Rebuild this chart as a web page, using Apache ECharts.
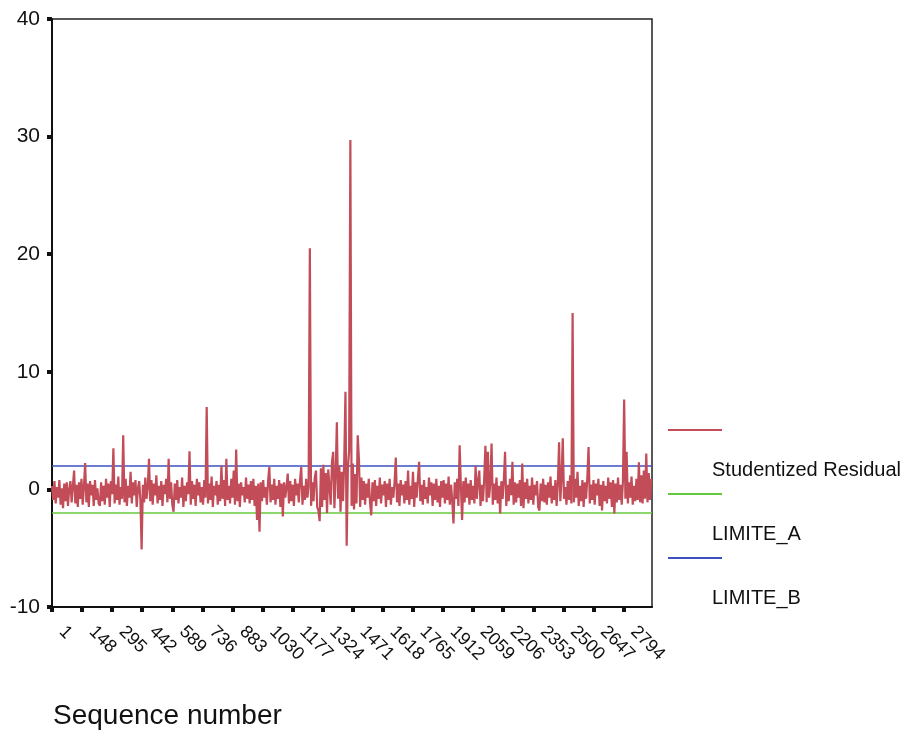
<!DOCTYPE html>
<html>
<head>
<meta charset="utf-8">
<script src="https://cdn.jsdelivr.net/npm/echarts@6/dist/echarts.min.js"></script>
<style>
  html, body { margin: 0; padding: 0; background: #ffffff; }
  #chart { width: 916px; height: 731px; }
</style>
</head>
<body>
<div id="chart"></div>
<script>
// ---- data ----
// Studentized residuals, one value every 6 cases, starting at case 1
const seqStep = 6;
const residual = [
  0.3, -0.9, 0.7, -1.2, 0.2, -0.7, 0.8, -1.3, 0.1, -1.6, 0.5, -1.0, 0.6, -1.4, 0.0, 0.7, -1.1, 0.3, 1.6, -1.2,
  0.4, -1.5, 0.6, -0.8, 0.9, -1.3, 0.2, 2.25, -1.1, 0.5, -1.5, 0.7, -0.5, 0.4, -1.4, 0.8, -0.9, 0.1, -1.2, -1.4,
  0.6, -1.0, 0.3, -1.3, 0.9, -0.7, 0.5, -1.5, 0.7, -0.4, 3.5, -1.2, 0.4, -0.9, 1.1, -1.3, 0.2, -0.8, 4.6, -1.1,
  0.9, -1.4, 0.3, -0.7, 1.5, -1.2, 0.6, -0.5, 0.8, -1.5, 0.1, 0.7, -0.9, -5.1, 0.4, -1.1, 1.0, -0.8, 0.2, 2.6,
  -1.0, 0.8, -1.3, 0.5, -0.5, 1.2, -1.2, 0.3, -0.9, 0.7, -1.4, 0.4, -0.4, 0.9, -1.1, 2.6, -0.8, 0.6, -1.3, -1.9,
  0.5, -0.9, 0.8, -1.2, 0.2, -0.7, 1.0, -1.5, 0.3, -1.0, 0.6, -0.4, 3.25, -1.3, 0.7, -0.8, 0.4, -1.4, 0.9, -0.5,
  0.6, -1.1, 0.2, -1.3, 0.8, -0.7, 7.0, -1.2, 0.5, -0.9, 1.1, -1.5, 0.3, -0.5, 0.7, -1.3, 0.4, -1.0, 2.0, -0.8,
  0.8, -1.4, 2.6, -0.9, 0.3, -1.2, 0.9, -0.7, 1.6, -1.3, 3.4, -1.0, 0.5, -1.5, 0.6, -0.5, 0.2, -1.1, 1.0, -0.8,
  0.4, -1.2, 0.7, -0.9, 0.9, -1.4, 0.3, -2.6, 0.5, -3.6, 0.6, -1.0, 0.8, -0.7, 0.2, -1.3, 0.7, 1.9, -1.1, 0.4,
  -0.9, 0.9, -1.3, 0.3, -0.8, 0.8, -1.5, 0.5, -2.3, 0.6, -0.7, 0.2, 1.35, -1.2, 0.7, -1.0, 0.4, -1.4, 0.9, -0.5,
  0.5, -1.1, 0.8, 1.9, -1.3, 0.3, -0.9, 0.9, -0.7, 0.2, 20.5, -1.4, 0.6, -1.0, 1.0, 1.6, -1.5, -1.8, -2.7, 1.8,
  -1.5, 2.1, -0.9, 1.4, -2.0, 1.7, 0.2, -1.3, 2.3, 3.2, -1.6, 1.2, 5.7, -0.8, 2.0, -1.9, 1.5, -1.0, 2.4, 8.3,
  -4.8, 1.9, 3.3, 29.7, -1.4, 2.2, -1.7, 1.3, -1.2, 4.6, 2.5, -1.5, 1.0, -0.9, 0.7, -1.3, 0.5, -0.7, 0.9, -1.1,
  -2.2, 0.6, -1.0, 0.8, -1.4, 0.3, -0.8, 1.0, -1.2, 0.4, -0.5, 0.7, -1.5, 0.5, -0.9, 0.9, -1.3, 0.2, -0.7, 0.6,
  2.7, -1.1, 0.5, -1.4, 0.8, -0.5, 0.4, -1.2, 0.7, -0.9, 1.6, -1.3, 0.3, -0.8, 1.5, -1.5, 0.6, -0.7, 0.9, 2.35,
  -1.0, 0.4, -1.3, 0.8, -0.8, 0.2, -1.2, 1.0, -0.5, 0.6, -1.4, 0.5, -0.9, 0.9, -1.1, 0.3, -1.5, 0.7, -0.7, 0.8,
  -1.2, 0.5, -0.9, 1.1, -1.3, 0.4, -1.0, -2.9, 0.6, -0.8, 0.9, -1.4, 3.75, 0.3, -2.6, 0.7, -1.1, 1.0, -0.7, 0.5,
  -1.3, 0.8, -0.9, 0.3, -1.2, 2.0, -0.8, 0.7, 1.6, -1.4, 0.4, -1.0, 0.9, 3.7, -1.1, 3.2, -0.7, 0.6, 3.9, -1.3,
  0.5, -0.9, 1.0, -1.2, 0.3, -2.05, 0.7, -0.8, 0.8, 3.2, -1.4, 0.4, -1.0, 0.9, -0.5, 2.35, -1.3, 0.6, -1.1, 0.5,
  -0.7, 0.8, -1.4, 2.2, -1.6, 0.6, -0.8, 0.9, -1.2, 0.3, -0.9, 1.0, -1.3, 0.4, -0.5, 0.7, -1.5, -1.8, 0.5, -1.0,
  0.9, -1.1, 0.4, -1.3, 0.6, -0.7, 1.1, -1.2, 0.3, -0.9, 0.8, -1.4, 0.5, 4.0, -1.0, 0.9, 4.35, -0.8, 0.2, -1.3,
  0.7, -0.9, 1.2, -1.2, 15.0, -1.1, 0.9, -0.7, 1.5, -1.4, 0.3, -1.0, 0.8, -1.5, 0.6, -0.8, 1.0, 3.6, -1.2, 0.4,
  -0.9, 0.8, -1.3, 0.5, -0.5, 0.9, -1.4, 0.4, -1.8, 0.7, -1.0, 0.3, -1.2, 1.0, -0.8, 0.6, -1.5, 0.8, -2.05, 0.5,
  -1.1, 1.0, -0.9, 0.4, -1.3, 0.7, 7.65, -0.8, 3.2, -1.2, 0.6, -0.7, 1.1, -1.3, 0.3, -1.0, 0.9, -0.9, 2.3, -1.1,
  1.2, -1.2, 1.6, -0.8, 3.05, -1.1, 1.4, -0.9, 0.9
];
const limitA = -2;      // LIMITE_A
const limitB = 2;       // LIMITE_B
const firstCase = 1;
const lastCase = 2933;
const tickStep = 147;   // x tick labels: 1, 148, 295, ... 2794
const seriesNames = ['Studentized Residual', 'LIMITE_A', 'LIMITE_B'];
const yMin = -10, yMax = 40, yStep = 10;
const xTitle = 'Sequence number';

// ---- chart ----
const FONT = 'Liberation Sans, Arial, Helvetica, sans-serif';
const RED = '#c24c57', GREEN = '#64c83c', BLUE = '#3c50be';
const chart = echarts.init(document.getElementById('chart'), null, { renderer: 'canvas' });

const xEnd = lastCase - firstCase;
const residualData = residual.map((v, i) => [i * seqStep, v]);

chart.setOption({
  animation: false,
  backgroundColor: '#ffffff',
  title: {
    text: xTitle,
    left: 48,
    top: 697,
    textStyle: { fontFamily: FONT, fontSize: 28, fontWeight: 'normal', color: '#111' }
  },
  grid: {
    left: 52, right: 264, top: 19, bottom: 124,
    show: true, borderColor: '#222', borderWidth: 1.5, backgroundColor: 'transparent'
  },
  legend: [
    {
      data: seriesNames,
      orient: 'vertical',
      left: 663, top: 424,
      icon: 'rect',
      itemWidth: 54, itemHeight: 2,
      itemGap: 62,
      formatter: () => ' ',
      textStyle: { fontSize: 2 }
    },
    {
      data: seriesNames,
      orient: 'vertical',
      left: 702, top: 455,
      icon: 'none',
      itemWidth: 0, itemHeight: 20,
      itemGap: 44,
      textStyle: { fontFamily: FONT, fontSize: 20, color: '#111' }
    }
  ],
  xAxis: {
    type: 'value',
    min: 0, max: xEnd, interval: tickStep,
    axisLine: { show: true, onZero: false, lineStyle: { color: '#111', width: 2 } },
    axisTick: { show: true, length: 5, lineStyle: { color: '#111', width: 4 } },
    splitLine: { show: false },
    axisLabel: {
      rotate: -45,
      margin: 12,
      padding: [0, 0, 0, 14],
      showMaxLabel: false,
      fontFamily: FONT, fontSize: 18, color: '#111',
      formatter: (v) => String(v + firstCase)
    }
  },
  yAxis: {
    type: 'value',
    min: yMin, max: yMax, interval: yStep,
    axisLine: { show: true, onZero: false, lineStyle: { color: '#111', width: 2 } },
    axisTick: { show: true, length: 5, lineStyle: { color: '#111', width: 4 } },
    splitLine: { show: false },
    axisLabel: { margin: 12, fontFamily: FONT, fontSize: 21, color: '#111' }
  },
  series: [
    {
      name: seriesNames[0], type: 'line', data: residualData,
      showSymbol: false, symbol: 'none', color: RED, z: 3,
      lineStyle: { color: RED, width: 2.2 }
    },
    {
      name: seriesNames[1], type: 'line',
      data: [[0, limitA], [xEnd, limitA]],
      showSymbol: false, symbol: 'none', color: GREEN, z: 2,
      lineStyle: { color: GREEN, width: 1.5 }
    },
    {
      name: seriesNames[2], type: 'line',
      data: [[0, limitB], [xEnd, limitB]],
      showSymbol: false, symbol: 'none', color: BLUE, z: 2,
      lineStyle: { color: BLUE, width: 1.5 }
    }
  ]
});
</script>
</body>
</html>
